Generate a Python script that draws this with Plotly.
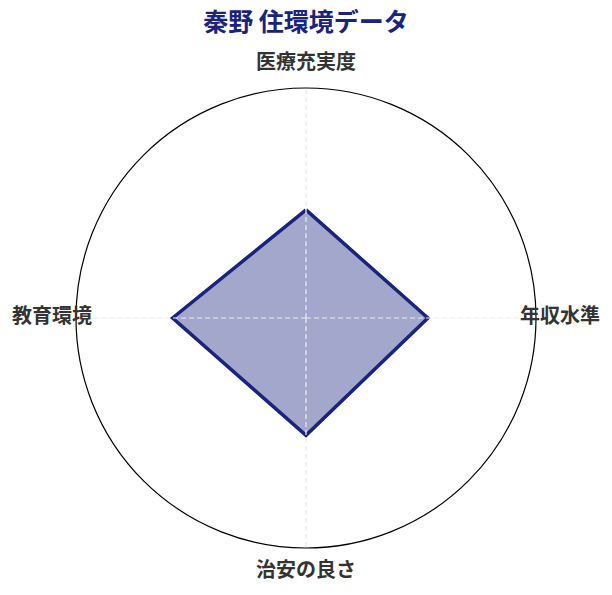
import plotly.graph_objects as go

categories = ["医療充実度", "年収水準", "治安の良さ", "教育環境"]
values = [47, 53, 51, 58]

navy = "#1a237e"
r_max = 100
label_r = 110
label_max = 111

fig = go.Figure()

# data polygon
fig.add_trace(go.Scatterpolar(
    r=values + values[:1],
    theta=categories + categories[:1],
    mode="lines",
    fill="toself",
    fillcolor="rgba(26,35,126,0.4)",
    line=dict(color=navy, width=3.5),
    hoverinfo="skip",
))

# spokes drawn over the polygon (dashed light grey)
spoke_r, spoke_t = [], []
for c in categories:
    spoke_r += [0, r_max, None]
    spoke_t += [c, c, None]
fig.add_trace(go.Scatterpolar(
    r=spoke_r,
    theta=spoke_t,
    mode="lines",
    line=dict(color="#ececec", width=1.2, dash="5px,3px"),
    hoverinfo="skip",
    connectgaps=False,
))

# category labels, on a second (larger, invisible) polar with the same scale
fig.add_trace(go.Scatterpolar(
    r=[label_r] * len(categories),
    theta=categories,
    mode="text",
    text=categories,
    textposition="middle center",
    textfont=dict(family="Noto Sans CJK JP", size=20, color="#333333", weight="bold"),
    cliponaxis=False,
    hoverinfo="skip",
    subplot="polar2",
))

angular_common = dict(rotation=90, direction="clockwise", categoryorder="array",
                      categoryarray=categories)

fig.update_layout(
    width=596,
    height=579,
    paper_bgcolor="white",
    font=dict(family="Noto Sans CJK JP", color="#333333"),
    title=dict(
        text="<b>秦野 住環境データ</b>",
        x=0.5, xanchor="center",
        y=0.975, yanchor="middle",
        font=dict(size=25, color=navy),
    ),
    margin=dict(l=10, r=10, t=40, b=10),
    showlegend=False,
    polar=dict(
        domain=dict(x=[0.1007, 0.8993], y=[0.0548, 0.9244]),
        bgcolor="white",
        radialaxis=dict(range=[0, r_max], visible=False, showgrid=False),
        angularaxis=dict(
            **angular_common,
            showline=True,
            linecolor="black",
            linewidth=1.2,
            showgrid=False,
            ticks="",
            showticklabels=False,
        ),
    ),
    polar2=dict(
        domain=dict(x=[0.055, 0.945], y=[0.0051, 0.9741]),
        bgcolor="rgba(0,0,0,0)",
        radialaxis=dict(range=[0, label_max], visible=False, showgrid=False),
        angularaxis=dict(
            **angular_common,
            showline=False,
            showgrid=False,
            ticks="",
            showticklabels=False,
        ),
    ),
)

fig.write_html("out.html")
